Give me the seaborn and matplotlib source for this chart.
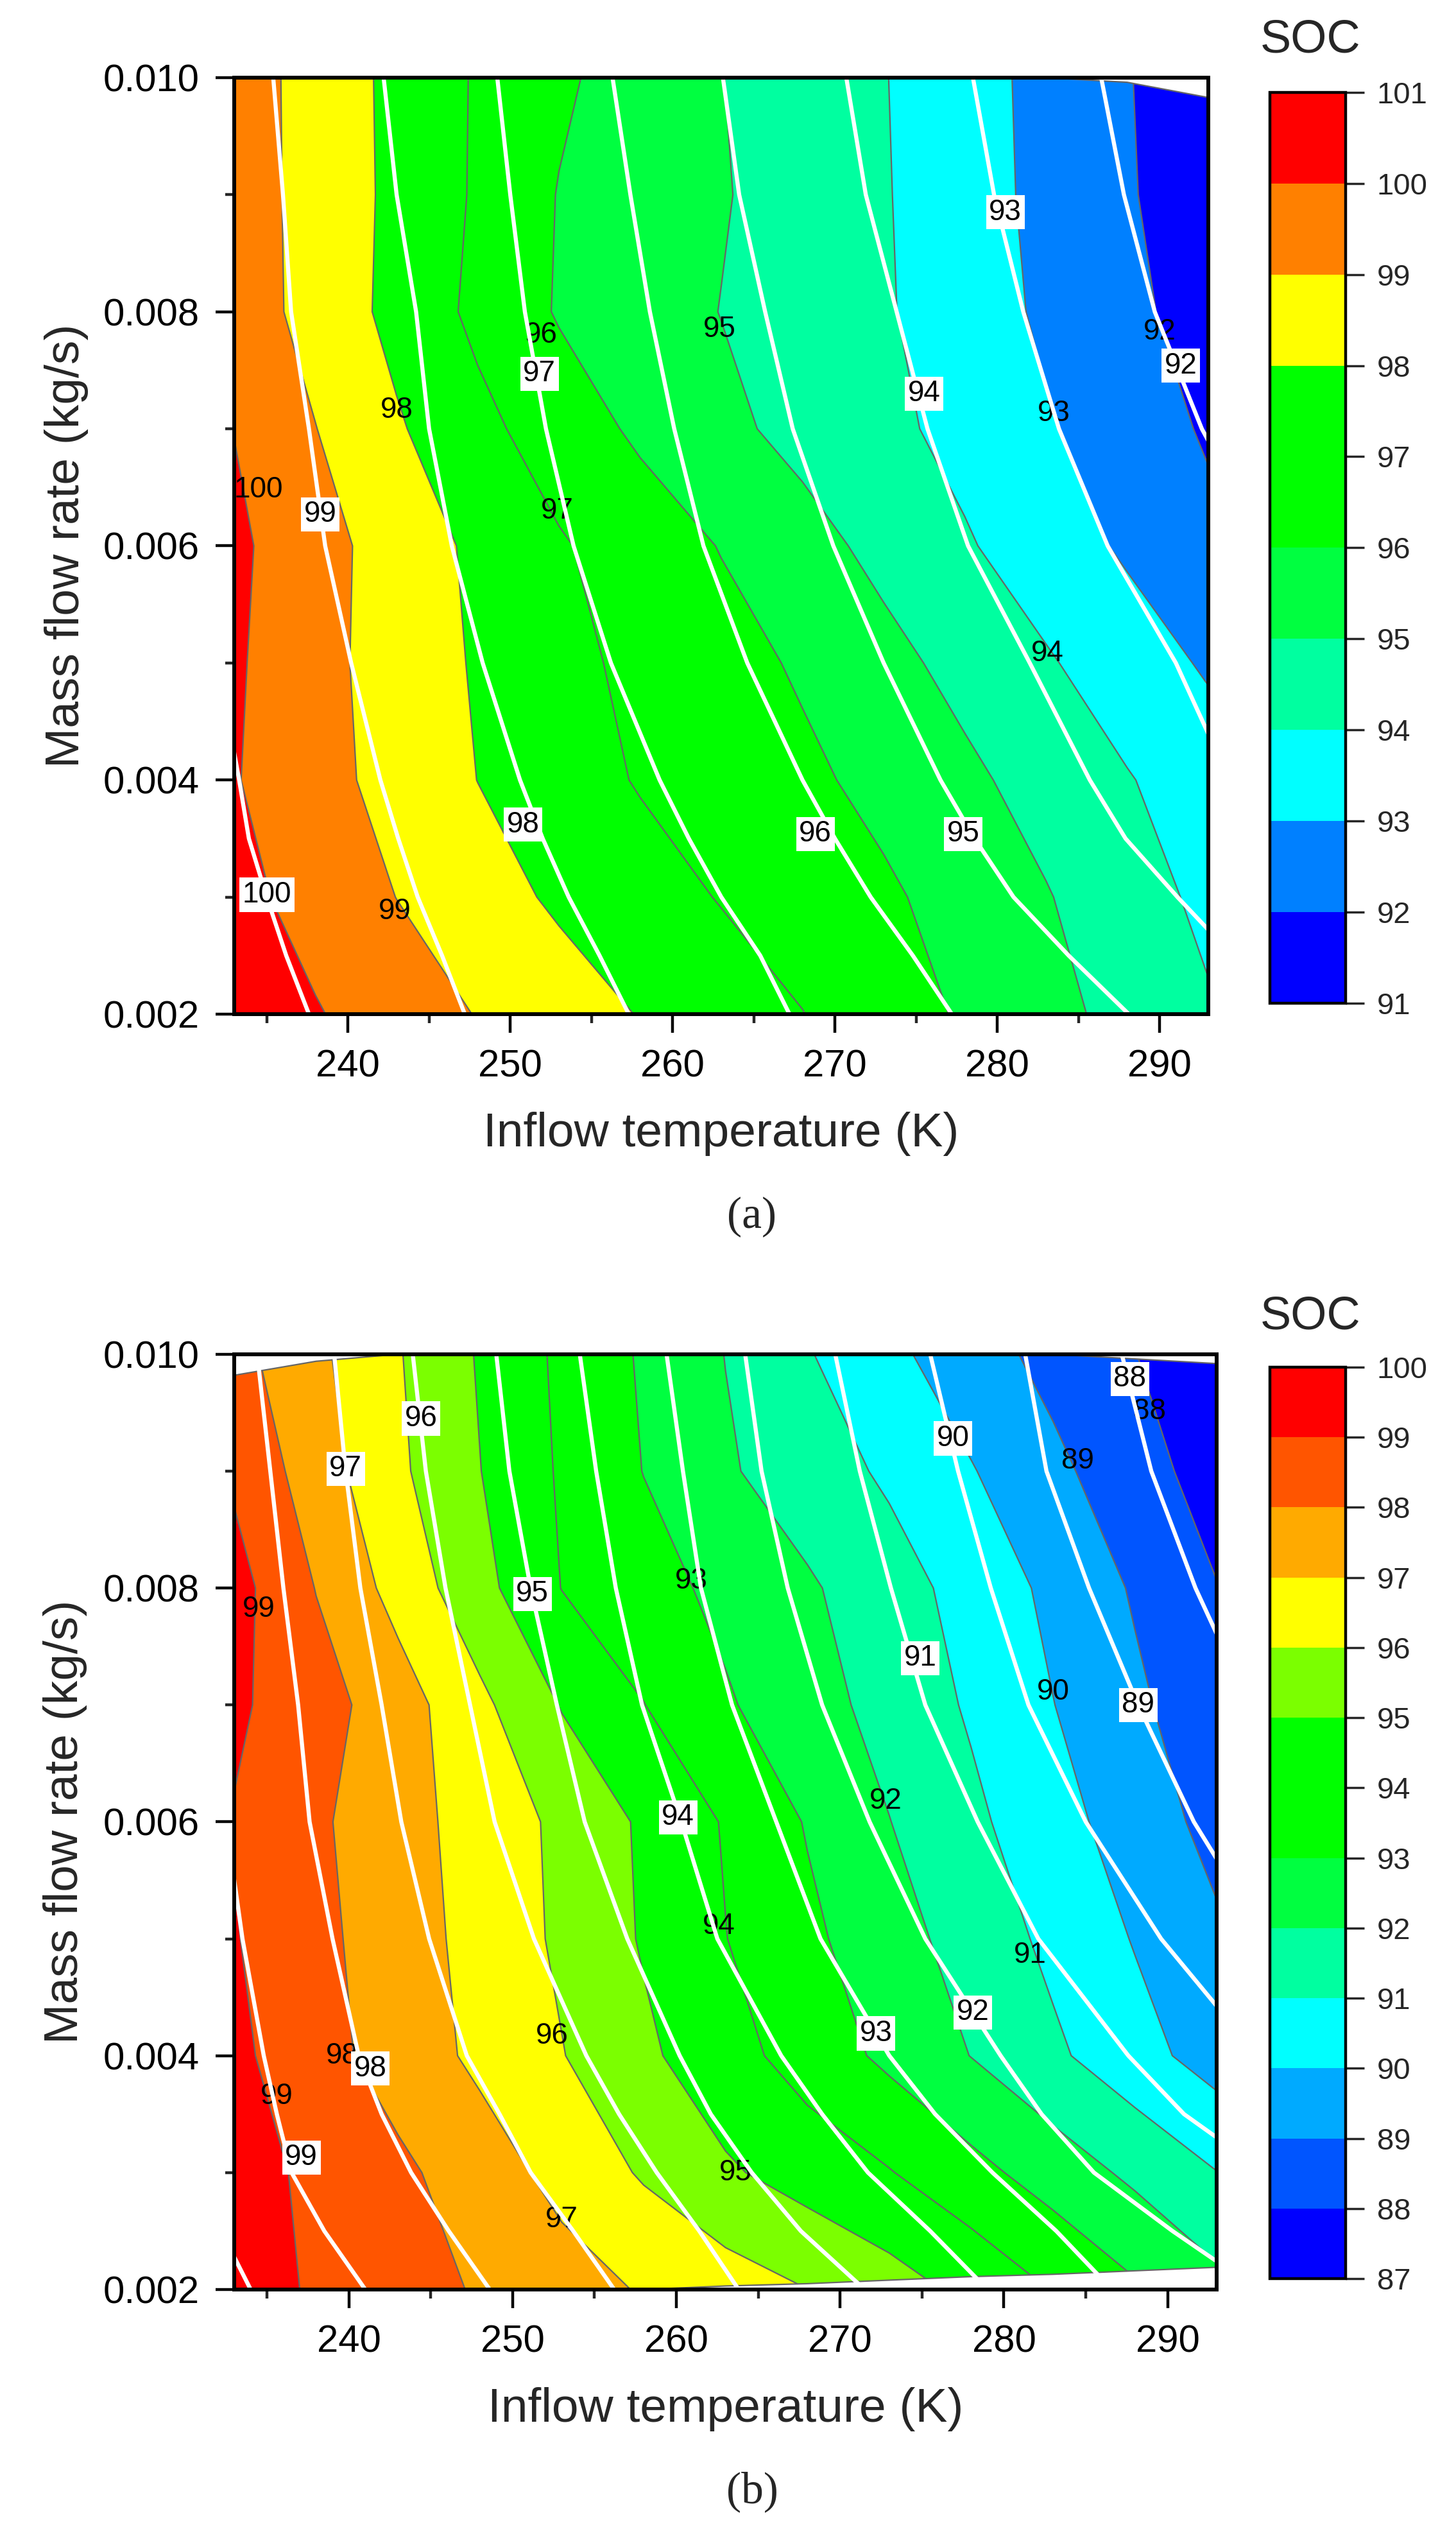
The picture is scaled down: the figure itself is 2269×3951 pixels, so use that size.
#!/usr/bin/env python3
"""
SOC contour maps against inflow temperature and mass flow rate, panels (a) and (b).
"""

import numpy as np
import matplotlib
matplotlib.use("Agg")
import matplotlib.pyplot as plt
from matplotlib.ticker import MultipleLocator, FormatStrFormatter
import seaborn as sns

# Set style
sns.set_style("ticks")
plt.rcParams["font.family"] = ["Liberation Sans", "DejaVu Sans"]

# simulated cases
temps = [233, 238, 243, 248, 253, 258, 263, 268, 273, 278, 283, 288, 293]
flows = [0.002, 0.003, 0.004, 0.005, 0.006, 0.007, 0.008, 0.009, 0.010]

# panel (a): SOC on the grid, one list per mass flow rate
soc_a_0020 = [100.62, 100.07, 99.51, 98.96, 98.46, 97.96, 97.48, 97.02, 96.44, 95.89, 95.31, 94.69, 94.10]
soc_a_0030 = [100.29, 99.64, 98.99, 98.40, 97.85, 97.40, 96.95, 96.55, 96.15, 95.64, 95.06, 94.42, 93.78]
soc_a_0040 = [100.06, 99.35, 98.66, 97.99, 97.44, 96.93, 96.56, 96.19, 95.74, 95.20, 94.63, 94.06, 93.50]
soc_a_0050 = [100.13, 99.31, 98.58, 97.90, 97.28, 96.77, 96.34, 95.88, 95.29, 94.70, 94.10, 93.49, 92.88]
soc_a_0060 = [100.20, 99.37, 98.56, 97.80, 97.10, 96.52, 95.96, 95.35, 94.73, 94.10, 93.48, 92.86, 92.24]
soc_a_0070 = [99.98, 99.02, 98.11, 97.27, 96.51, 95.83, 95.23, 94.71, 94.24, 93.70, 93.09, 92.49, 91.89]
soc_a_0080 = [99.55, 98.65, 97.72, 96.77, 95.92, 95.45, 94.98, 94.54, 94.10, 93.49, 92.84, 92.22, 91.60]
soc_a_0090 = [99.50, 98.65, 97.77, 96.88, 95.96, 95.52, 95.07, 94.58, 94.07, 93.42, 92.75, 92.09, 91.43]
soc_a_0100 = [99.50, 98.63, 97.75, 96.90, 96.16, 95.57, 95.02, 94.53, 94.04, 93.39, 92.72, 92.05, 91.40]
# flow rate actually reached in the first / last row
edge_a_bottom = [0.002] * 13
edge_a_top = [0.010] * 11 + [0.00996, 0.00983]

# panel (b)
soc_b_0020 = [99.40, 98.90, 98.41, 97.91, 97.42, 96.92, 96.44, 95.94, 95.32, 94.60, 93.77, 92.92, 92.05]
soc_b_0030 = [99.39, 98.80, 98.21, 97.49, 96.69, 95.89, 95.14, 94.57, 94.05, 93.31, 92.55, 91.79, 91.02]
soc_b_0040 = [99.22, 98.37, 97.56, 96.79, 96.04, 95.19, 94.38, 93.58, 92.78, 91.98, 91.18, 90.37, 89.56]
soc_b_0050 = [99.06, 98.26, 97.47, 96.67, 95.83, 94.91, 94.02, 93.21, 92.40, 91.59, 90.77, 89.94, 89.16]
soc_b_0060 = [98.94, 98.16, 97.38, 96.60, 95.79, 94.85, 93.92, 92.93, 92.02, 91.21, 90.37, 89.53, 88.68]
soc_b_0070 = [99.17, 98.41, 97.47, 96.23, 94.94, 94.02, 93.11, 92.39, 91.66, 90.88, 90.02, 89.18, 88.36]
soc_b_0080 = [99.36, 97.97, 96.65, 95.32, 93.98, 93.38, 92.75, 92.13, 91.42, 90.64, 89.77, 88.90, 88.03]
soc_b_0090 = [98.84, 97.49, 96.18, 95.02, 93.88, 92.98, 92.12, 91.48, 90.84, 90.06, 89.23, 88.40, 87.57]
soc_b_0100 = [98.40, 97.23, 96.07, 94.91, 93.80, 92.88, 91.98, 91.07, 90.23, 89.43, 88.69, 88.03, 87.36]
edge_b_bottom = [0.002] * 6 + [0.00203, 0.00205, 0.00208, 0.00211, 0.00213, 0.00216, 0.00219]
edge_b_top = [0.00982, 0.00994] + [0.010] * 9 + [0.00996, 0.00992]

# fitted iso-SOC curves (white): temperature reached at each flow rate
fit_flows = [0.002, 0.0025, 0.003, 0.0035, 0.004, 0.005, 0.006, 0.007, 0.008, 0.009, 0.010]

fit_a_levels = [100, 99, 98, 97, 96, 95, 94, 93, 92]
fit_a_100 = [237.6, 236.2, 235.0, 233.9, 233.3, 232.0, 231.0, 230.3, 229.7, 229.2, 228.8]
fit_a_99 = [247.2, 245.8, 244.3, 243.1, 242.0, 240.2, 238.6, 237.6, 236.5, 236.0, 235.4]
fit_a_98 = [257.3, 255.5, 253.6, 252.0, 250.6, 248.3, 246.4, 245.0, 244.2, 243.0, 242.2]
fit_a_97 = [267.2, 265.4, 263.0, 261.0, 259.2, 256.2, 253.9, 252.2, 250.9, 250.0, 249.2]
fit_a_96 = [277.2, 274.8, 272.2, 270.0, 268.0, 264.6, 261.9, 260.1, 258.6, 257.4, 256.3]
fit_a_95 = [288.1, 284.4, 281.0, 278.6, 276.5, 273.0, 269.9, 267.4, 265.7, 264.1, 263.1]
fit_a_94 = [298.0, 294.5, 291.1, 287.9, 285.7, 282.0, 278.2, 275.7, 273.8, 271.9, 270.7]
fit_a_93 = [308.0, 304.0, 300.0, 297.0, 294.3, 291.0, 286.8, 283.8, 281.6, 279.8, 278.5]
fit_a_92 = [320.0, 316.0, 312.0, 309.0, 306.0, 301.0, 296.5, 292.6, 289.7, 287.8, 286.4]

fit_b_levels = [100, 99, 98, 97, 96, 95, 94, 93, 92, 91, 90, 89, 88]
fit_b_100 = [234.0, 232.2, 231.0, 230.0, 229.3, 228.0, 227.0, 226.2, 225.5, 225.0, 224.5]
fit_b_99 = [241.0, 238.5, 236.5, 235.6, 234.8, 233.5, 232.5, 231.6, 231.0, 230.5, 230.0]
fit_b_98 = [248.6, 246.1, 243.8, 242.0, 240.6, 239.0, 237.6, 236.9, 236.0, 235.2, 234.4]
fit_b_97 = [256.2, 253.7, 251.1, 249.2, 247.2, 244.9, 243.2, 242.0, 240.7, 239.8, 239.1]
fit_b_96 = [263.8, 261.4, 258.8, 256.5, 254.5, 251.3, 248.9, 247.4, 245.9, 244.7, 243.9]
fit_b_95 = [271.5, 267.6, 264.6, 262.1, 260.2, 257.0, 254.4, 252.7, 251.1, 249.8, 249.0]
fit_b_94 = [279.0, 275.5, 271.7, 268.9, 266.4, 262.5, 260.3, 257.9, 256.3, 255.1, 254.1]
fit_b_93 = [286.6, 283.2, 279.3, 275.8, 273.0, 268.8, 266.1, 263.4, 261.5, 260.4, 259.4]
fit_b_92 = [295.5, 290.3, 285.5, 282.3, 279.8, 275.2, 271.8, 268.9, 266.8, 265.2, 264.2]
fit_b_91 = [307.0, 301.0, 296.0, 291.0, 287.6, 282.1, 278.4, 275.2, 273.1, 271.2, 269.7]
fit_b_90 = [315.0, 309.0, 303.0, 299.0, 295.5, 289.6, 285.0, 281.5, 279.2, 277.2, 275.5]
fit_b_89 = [317.0, 312.0, 308.0, 304.0, 301.0, 296.0, 291.6, 288.2, 285.2, 282.6, 281.3]
fit_b_88 = [325.0, 320.0, 316.0, 312.0, 308.0, 303.0, 299.0, 295.0, 291.7, 289.0, 287.2]

# colour classes
levels_a = list(range(91, 102))
colors_a = ["#0000FF", "#0080FF", "#00FFFF", "#00FFA0", "#00FF40",
            "#00FF00", "#00FF00", "#FFFF00", "#FF8000", "#FF0000"]
levels_b = list(range(87, 101))
colors_b = ["#0000FF", "#0055FF", "#00AAFF", "#00FFFF", "#00FFA0", "#00FF40", "#00FF00",
            "#00FF00", "#7BFF00", "#FFFF00", "#FFAA00", "#FF5500", "#FF0000"]

# where the labels sit: grid contours (black) and fitted curves (boxed)
grid_lab_a_T = [234.5, 242.9, 243.0, 252.9, 251.9, 262.9, 283.1, 283.5, 290.0]
grid_lab_a_m = [0.00648, 0.00288, 0.00716, 0.00630, 0.00780, 0.00785, 0.00508, 0.00713, 0.00783]
grid_lab_a_v = [100, 99, 98, 97, 96, 95, 94, 93, 92]
fit_lab_a_T = [235.0, 238.3, 250.8, 251.8, 268.8, 277.9, 275.5, 280.5, 291.3]
fit_lab_a_m = [0.00302, 0.00627, 0.00362, 0.00747, 0.00354, 0.00354, 0.00730, 0.00885, 0.00754]
fit_lab_a_v = [100, 99, 98, 97, 96, 95, 94, 93, 92]

grid_lab_b_T = [234.5, 260.9, 288.9, 284.5, 283.0, 272.8, 262.6, 281.6, 252.4, 239.6, 235.6, 263.6, 253.0]
grid_lab_b_m = [0.00782, 0.00806, 0.00951, 0.00909, 0.00711, 0.00618, 0.00511, 0.00486, 0.00417,
                0.00400, 0.00365, 0.00300, 0.00260]
grid_lab_b_v = [99, 93, 88, 89, 90, 92, 94, 91, 96, 98, 99, 95, 97]
fit_lab_b_T = [244.4, 239.8, 251.2, 287.7, 276.9, 274.9, 288.2, 260.1, 272.2, 278.1, 241.3, 237.1]
fit_lab_b_m = [0.00945, 0.00902, 0.00795, 0.00979, 0.00928, 0.00740, 0.00700, 0.00604, 0.00419,
               0.00437, 0.00389, 0.00313]
fit_lab_b_v = [96, 97, 95, 88, 90, 91, 89, 94, 93, 92, 98, 99]

GRAY = "#666666"


def draw_panel(ax, cax, soc_rows, edge_bottom, edge_top, levels, colors, fits, fit_levels,
               grid_lab, fit_lab):
    """Filled contour of the grid, fitted curves in white, labels, colorbar."""
    X, Y = np.meshgrid(temps, flows)
    Y[0] = edge_bottom
    Y[-1] = edge_top
    Z = np.array(soc_rows)

    cf = ax.contourf(X, Y, Z, levels=levels, colors=colors, zorder=1)
    ax.contour(X, Y, Z, levels=levels[1:-1], colors=GRAY, linewidths=1.6, zorder=2)
    ax.plot(temps, edge_top, color=GRAY, lw=1.6, zorder=2)
    ax.plot(temps, edge_bottom, color=GRAY, lw=1.6, zorder=2)

    for t, m, v in zip(*grid_lab):
        ax.text(t, m, str(v), ha="center", va="center", fontsize=33, color="black",
                zorder=4, clip_on=True)

    for curve in fits:
        sns.lineplot(x=curve, y=fit_flows, orient="y", sort=True, errorbar=None,
                     color="white", linewidth=4.6, legend=False, ax=ax, zorder=5)

    for t, m, v in zip(*fit_lab):
        ax.text(t, m, str(v), ha="center", va="center", fontsize=33, color="black",
                zorder=6, clip_on=True,
                bbox=dict(boxstyle="square,pad=0.1", fc="white", ec="none"))

    ax.set_xlim(233, 293)
    ax.set_ylim(0.002, 0.010)
    ax.xaxis.set_major_locator(MultipleLocator(10))
    ax.xaxis.set_minor_locator(MultipleLocator(5))
    ax.yaxis.set_major_locator(MultipleLocator(0.002))
    ax.yaxis.set_minor_locator(MultipleLocator(0.001))
    ax.yaxis.set_major_formatter(FormatStrFormatter("%.3f"))
    ax.tick_params(which="major", direction="out", length=21, width=3.2, labelsize=43, pad=18,
                   colors="black")
    ax.tick_params(which="minor", direction="out", length=10, width=3.2)
    for side in ["left", "right", "top", "bottom"]:
        ax.spines[side].set_visible(True)
        ax.spines[side].set_color("black")
        ax.spines[side].set_linewidth(4.3)
        ax.spines[side].set_zorder(10)

    ax.set_xlabel("Inflow temperature (K)", fontsize=54, va="center")
    ax.set_ylabel("Mass flow rate (kg/s)", fontsize=54, va="center")
    ax.xaxis.set_label_coords(0.5, -0.128)
    ax.yaxis.set_label_coords(-0.172, 0.5)

    cb = ax.figure.colorbar(cf, cax=cax, ticks=levels)
    cb.ax.tick_params(labelsize=34, length=21, width=2.5, pad=14, direction="out")
    cb.outline.set_linewidth(3.2)
    cb.outline.set_edgecolor("black")
    return cf


def main():
    fig = plt.figure(figsize=(22.69, 39.51), dpi=100)
    fig.patch.set_facecolor("white")

    ax_a = fig.add_axes([0.1609, 0.6001, 0.6690, 0.3693])
    cax_a = fig.add_axes([0.8722, 0.6044, 0.0520, 0.3592])
    ax_b = fig.add_axes([0.1609, 0.0972, 0.6748, 0.3688])
    cax_b = fig.add_axes([0.8722, 0.1015, 0.0520, 0.3594])

    rows_a = [soc_a_0020, soc_a_0030, soc_a_0040, soc_a_0050, soc_a_0060,
              soc_a_0070, soc_a_0080, soc_a_0090, soc_a_0100]
    fits_a = [fit_a_100, fit_a_99, fit_a_98, fit_a_97, fit_a_96, fit_a_95, fit_a_94, fit_a_93, fit_a_92]
    draw_panel(ax_a, cax_a, rows_a, edge_a_bottom, edge_a_top, levels_a, colors_a,
               fits_a, fit_a_levels,
               (grid_lab_a_T, grid_lab_a_m, grid_lab_a_v),
               (fit_lab_a_T, fit_lab_a_m, fit_lab_a_v))

    rows_b = [soc_b_0020, soc_b_0030, soc_b_0040, soc_b_0050, soc_b_0060,
              soc_b_0070, soc_b_0080, soc_b_0090, soc_b_0100]
    fits_b = [fit_b_100, fit_b_99, fit_b_98, fit_b_97, fit_b_96, fit_b_95, fit_b_94,
              fit_b_93, fit_b_92, fit_b_91, fit_b_90, fit_b_89, fit_b_88]
    draw_panel(ax_b, cax_b, rows_b, edge_b_bottom, edge_b_top, levels_b, colors_b,
               fits_b, fit_b_levels,
               (grid_lab_b_T, grid_lab_b_m, grid_lab_b_v),
               (fit_lab_b_T, fit_lab_b_m, fit_lab_b_v))

    # colorbar titles and panel captions
    fig.text(0.900, 0.984, "SOC", fontsize=52, ha="center", va="center")
    fig.text(0.900, 0.4807, "SOC", fontsize=52, ha="center", va="center")
    fig.text(0.5165, 0.520, "(a)", fontsize=50, ha="center", va="center",
             family=["Liberation Serif", "DejaVu Serif"])
    fig.text(0.5165, 0.0175, "(b)", fontsize=50, ha="center", va="center",
             family=["Liberation Serif", "DejaVu Serif"])

    fig.savefig("out.png", dpi=100, facecolor="white")
    plt.close(fig)


if __name__ == "__main__":
    main()
